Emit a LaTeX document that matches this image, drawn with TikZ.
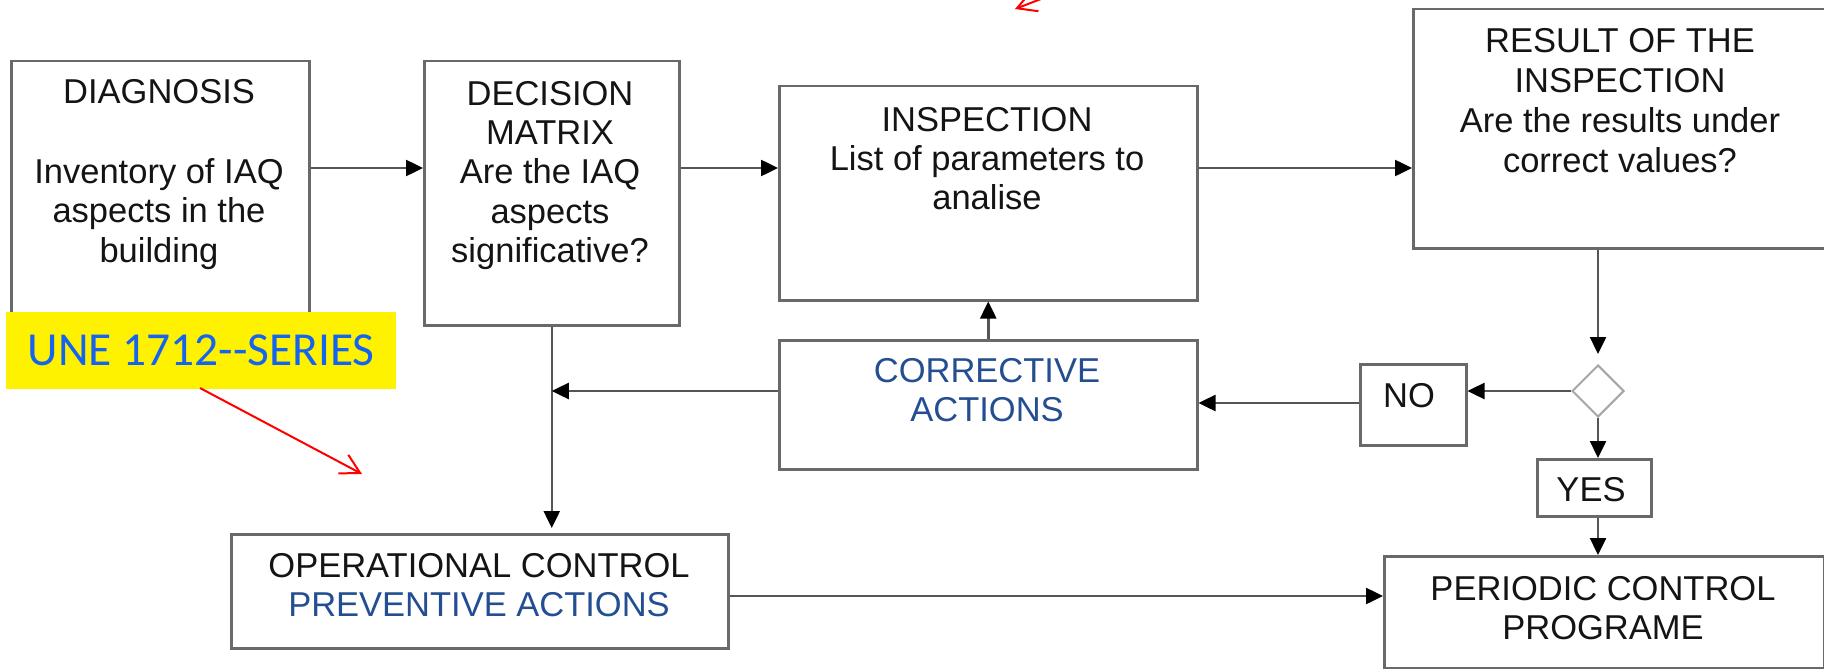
\documentclass[tikz,border=0pt]{standalone}
\usepackage{fontspec}
\setmainfont{Liberation Sans}
\newfontfamily\carlitofont{Carlito}
\usetikzlibrary{arrows.meta,shapes.geometric}
\definecolor{boxgray}{RGB}{105,105,105}
\definecolor{linegray}{RGB}{85,85,85}
\definecolor{actblue}{RGB}{35,78,145}
\definecolor{uneblue}{RGB}{20,100,240}
\definecolor{txtblack}{RGB}{20,20,20}
\begin{document}
\begin{tikzpicture}[x=1pt,y=-1pt,
  box/.style={draw=boxgray, line width=2.5pt, rectangle, inner sep=0pt, anchor=north west},
  txt/.style={inner sep=0pt, anchor=north, align=center, font=\fontsize{34.5}{39.3}\selectfont, text=txtblack},
  conn/.style={draw=linegray, line width=2.5pt, -{Triangle[length=17pt,width=16pt,color=black]}},
  plain/.style={draw=linegray, line width=2.5pt},
  redarr/.style={draw=red, line width=2pt, -{Straight Barb[length=19pt,width=21pt]}}]
\useasboundingbox (0,0) rectangle (1824,669);
\fill[white] (0,0) rectangle (1824,669);
\clip (0,0) rectangle (1824,669);

% boxes
\node[box, minimum width=298pt, minimum height=272pt] (diag) at (10,60) {};
\node[box, minimum width=255pt, minimum height=264pt] (dec) at (423,60) {};
\node[box, minimum width=418pt, minimum height=214pt] (insp) at (778,85) {};
\node[box, minimum width=420pt, minimum height=239pt] (res) at (1412,8) {};
\node[box, minimum width=418pt, minimum height=129pt] (corr) at (778,339) {};
\node[box, minimum width=106pt, minimum height=81pt] (no) at (1359,363) {};
\node[box, minimum width=114pt, minimum height=57pt] (yes) at (1536,458) {};
\node[box, minimum width=497pt, minimum height=114pt] (oper) at (230,533) {};
\node[box, minimum width=440pt, minimum height=112pt] (per) at (1383,555) {};
\node[diamond, draw=gray!70, line width=2pt, inner sep=0pt, minimum width=52pt, minimum height=52pt] (dia) at (1598,391) {};

% texts
\node[txt] (diagT) at (159,79) {DIAGNOSIS\\[41pt]Inventory of IAQ\\aspects in the\\building};
\node[txt] (decT) at (550,81) {DECISION\\MATRIX\\Are the IAQ\\aspects\\significative?};
\node[txt] (inspT) at (987,107) {INSPECTION\\List of parameters to\\analise};
\node[txt, font=\fontsize{34.5}{40}\selectfont] (resT) at (1620,28) {RESULT OF THE\\INSPECTION\\Are the results under\\correct values?};
\node[txt, text=actblue] (corrT) at (987,358) {CORRECTIVE\\ACTIONS};
\node[txt] (noT) at (1409,383) {NO};
\node[txt] (yesT) at (1591,477) {YES};
\node[txt] (operT) at (479,553) {OPERATIONAL CONTROL\\\textcolor{actblue}{PREVENTIVE ACTIONS}};
\node[txt] (perT) at (1603,576) {PERIODIC CONTROL\\PROGRAME};

% helper rows
\coordinate (r1) at (0,168);
\coordinate (r2) at (0,403);
\coordinate (r3) at (0,391);
\coordinate (r4) at (0,596);

% connectors
\draw[conn] (diag.east |- r1) -- (dec.west |- r1);
\draw[conn] (dec.east |- r1) -- (insp.west |- r1);
\draw[conn] (insp.east |- r1) -- (res.west |- r1);
\draw[conn, shorten >=10pt] (dia.north |- res.south) -- (dia.north);
\draw[conn] (dia.west) -- (no.east |- dia.west);
\draw[conn] (dia.south) -- (dia.south |- yes.north);
\draw[conn] (dia.south |- yes.south) -- (dia.south |- per.north);
\draw[conn] (no.west |- r2) -- (corr.east |- r2);
\draw[conn] (corr.north) -- (insp.south);
\draw[conn, shorten >=5pt] (dec.south) -- (dec.south |- oper.north);
\draw[conn] (corr.west |- r3) -- (dec.south |- r3);
\draw[conn] (oper.east |- r4) -- (per.west |- r4);

% yellow label
\node[fill=yellow, inner sep=0pt, anchor=north west, minimum width=390pt, minimum height=77pt,
      font=\carlitofont\fontsize{47.4}{56}\selectfont, text=uneblue] (une) at (6,312) {UNE 1712-\kern0pt-SERIES};

% red arrows
\coordinate (redA) at (200,388);
\coordinate (redB) at (362,474);
\draw[redarr] (redA) -- (redB);
\coordinate (redC) at (1080,-16);
\coordinate (redD) at (1015,9);
\draw[redarr] (redC) -- (redD);
\end{tikzpicture}
\end{document}
